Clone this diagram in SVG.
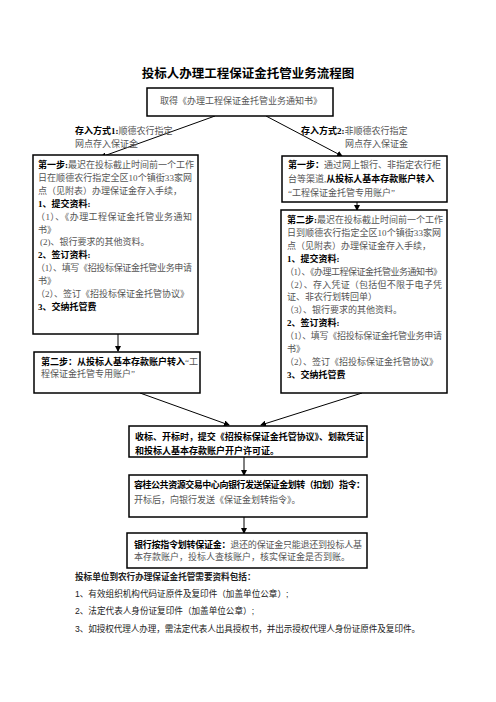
<svg xmlns="http://www.w3.org/2000/svg" width="496" height="702" viewBox="0 0 496 702">
<style>
.box{fill:#fff;stroke:#000;stroke-width:1.5}
.t{font-family:"Liberation Serif","Noto Sans CJK SC",serif;font-size:9px;fill:#555}
.b{font-weight:bold;fill:#000}
.title{font-family:"Liberation Sans","Noto Sans CJK SC",sans-serif;font-size:12.5px;font-weight:bold;fill:#000}
.f{font-family:"Liberation Sans","Noto Sans CJK SC",sans-serif;font-size:8.6px;fill:#222}
.ln{stroke:#000;stroke-width:1;fill:none;marker-end:url(#ah)}
</style>
<defs>
<marker id="ah" markerWidth="6" markerHeight="6" refX="5" refY="3" orient="auto" markerUnits="userSpaceOnUse">
<path d="M0,0 L6,3 L0,6 z" fill="#000"/>
</marker>
</defs>
<rect width="496" height="702" fill="#fff"/>
<text class="title" x="248" y="78" text-anchor="middle">投标人办理工程保证金托管业务流程图</text>

<g id="connectors">
<line class="ln" x1="215" y1="116" x2="101" y2="157"/>
<line class="ln" x1="266" y1="116" x2="342" y2="156"/>
<line class="ln" x1="118" y1="334" x2="118" y2="351"/>
<line class="ln" x1="357" y1="202" x2="357" y2="210"/>
<line class="ln" x1="140" y1="393" x2="229" y2="425"/>
<line class="ln" x1="362" y1="393" x2="261" y2="425"/>
<line class="ln" x1="244" y1="457" x2="244" y2="475"/>
<line class="ln" x1="244" y1="517" x2="244" y2="533"/>
</g>

<g id="n-start">
<rect class="box" x="147" y="88" width="186" height="28"/>
<text class="t" x="160" y="104">取得《办理工程保证金托管业务通知书》</text>
</g>

<g id="lbl-1">
<text class="t" x="75" y="134"><tspan class="b">存入方式1:</tspan>顺德农行指定</text>
<text class="t" x="75" y="147">网点存入保证金</text>
</g>
<g id="lbl-2">
<text class="t" x="301" y="134"><tspan class="b">存入方式2:</tspan>非顺德农行指定</text>
<text class="t" x="345" y="147">网点存入保证金</text>
</g>

<g id="n-left1">
<rect class="box" x="33" y="155" width="165" height="179"/>
<text class="t" x="38" y="168"><tspan class="b">第一步:</tspan>最迟在投标截止时间前一个工作</text>
<text class="t" x="38" y="181" textLength="154">日在顺德农行指定全区10个镇街33家网</text>
<text class="t" x="38" y="194">点（见附表）办理保证金存入手续，</text>
<text class="t b" x="38" y="207">1、提交资料:</text>
<text class="t" x="36" y="220" textLength="156">（1）、《办理工程保证金托管业务通知</text>
<text class="t" x="38" y="233">书》</text>
<text class="t" x="40" y="245">(2)、银行要求的其他资料。</text>
<text class="t b" x="38" y="258">2、签订资料:</text>
<text class="t" x="36" y="271" textLength="156">（1）、填写《招投标保证金托管业务申请</text>
<text class="t" x="38" y="284">书》</text>
<text class="t" x="36" y="297">（2）、签订《招投标保证金托管协议》</text>
<text class="t b" x="38" y="310">3、交纳托管费</text>
</g>

<g id="n-left2">
<rect class="box" x="34" y="352" width="166" height="41"/>
<text class="t" x="41" y="365"><tspan class="b">第二步：从投标人基本存款账户转入</tspan>“工</text>
<text class="t" x="41" y="377">程保证金托管专用账户”</text>
</g>

<g id="n-right1">
<rect class="box" x="282" y="156" width="165" height="46"/>
<text class="t" x="288" y="168"><tspan class="b">第一步：</tspan>通过网上银行、非指定农行柜</text>
<text class="t" x="288" y="182">台等渠道,<tspan class="b">从投标人基本存款账户转入</tspan></text>
<text class="t" x="288" y="196">“工程保证金托管专用账户”</text>
</g>

<g id="n-right2">
<rect class="box" x="281" y="210" width="166" height="183"/>
<text class="t" x="287" y="223"><tspan class="b">第二步:</tspan>最迟在投标截止时间前一个工作</text>
<text class="t" x="287" y="236" textLength="154">日到顺德农行指定全区10个镇街33家网</text>
<text class="t" x="287" y="249">点（见附表）办理保证金存入手续，</text>
<text class="t b" x="287" y="262">1、提交资料:</text>
<text class="t" x="285" y="275" textLength="157">（1）、《办理工程保证金托管业务通知书》</text>
<text class="t" x="285" y="288" textLength="157">（2）、存入凭证（包括但不限于电子凭</text>
<text class="t" x="287" y="300">证、非农行划转回单）</text>
<text class="t" x="285" y="313">（3）、银行要求的其他资料。</text>
<text class="t b" x="287" y="326">2、签订资料:</text>
<text class="t" x="285" y="339" textLength="157">（1）、填写《招投标保证金托管业务申请</text>
<text class="t" x="287" y="352">书》</text>
<text class="t" x="285" y="365">（2）、签订《招投标保证金托管协议》</text>
<text class="t b" x="287" y="378">3、交纳托管费</text>
</g>

<g id="n-submit">
<rect class="box" x="129" y="426" width="238" height="31"/>
<text class="t b" x="135" y="440" textLength="229">收标、开标时，提交《招投标保证金托管协议》、划款凭证</text>
<text class="t b" x="135" y="454">和投标人基本存款账户开户许可证。</text>
</g>

<g id="n-instruct">
<rect class="box" x="129" y="475" width="238" height="42"/>
<text class="t b" x="134" y="488" textLength="231">容桂公共资源交易中心向银行发送保证金划转（扣划）指令：</text>
<text class="t" x="134" y="503">开标后，向银行发送《保证金划转指令》。</text>
</g>

<g id="n-transfer">
<rect class="box" x="127" y="533" width="240" height="35"/>
<text class="t" x="134" y="548" textLength="228"><tspan class="b">银行按指令划转保证金：</tspan>退还的保证金只能退还到投标人基</text>
<text class="t" x="134" y="560">本存款账户，投标人查核账户，核实保证金是否到账。</text>
</g>

<g id="footer">
<text class="f" x="75" y="580" font-weight="bold">投标单位到农行办理保证金托管需要资料包括：</text>
<text class="f" x="75" y="597">1、有效组织机构代码证原件及复印件（加盖单位公章）;</text>
<text class="f" x="75" y="614">2、法定代表人身份证复印件（加盖单位公章）;</text>
<text class="f" x="75" y="632" textLength="345">3、如授权代理人办理，需法定代表人出具授权书，并出示授权代理人身份证原件及复印件。</text>
</g>
</svg>
